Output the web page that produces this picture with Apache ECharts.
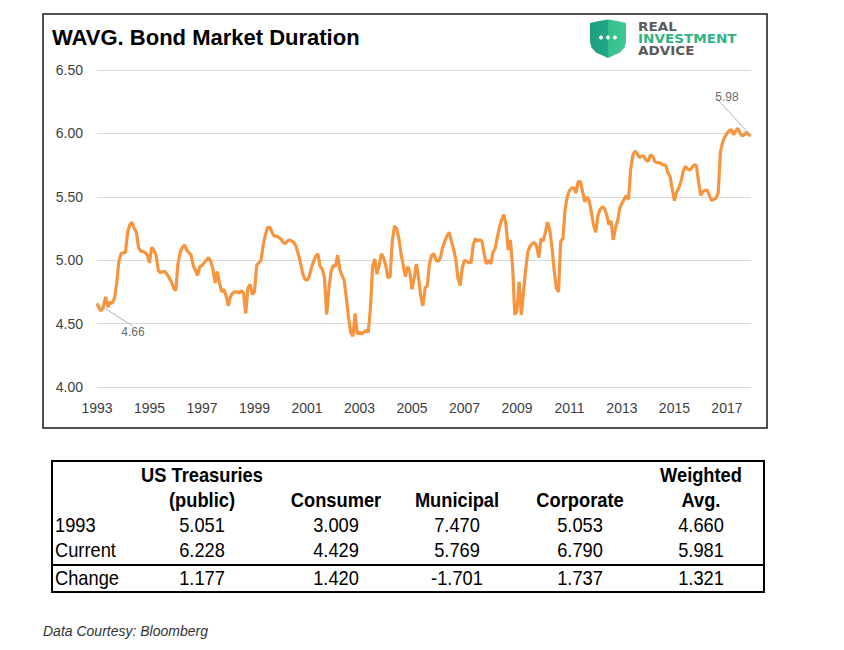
<!DOCTYPE html>
<html>
<head>
<meta charset="utf-8">
<script src="https://cdn.jsdelivr.net/npm/echarts@6/dist/echarts.min.js"></script>
<style>
  html, body { margin: 0; padding: 0; background: #fff; }
  #chart { width: 844px; height: 650px; }
</style>
</head>
<body>
<div id="chart"></div>
<script>
// ---------- DATA ----------
const startYear = 1993;
const xTickLabels = ["1993","1995","1997","1999","2001","2003","2005","2007","2009","2011","2013","2015","2017"];
const yTickValues = [4.0, 4.5, 5.0, 5.5, 6.0, 6.5];

// Monthly weighted-average bond market duration, Jan 1993 - Dec 2017
const durationValues = [
  4.66, 4.62, 4.60, 4.64, 4.71, 4.63, 4.67, 4.66, 4.70, 4.82,
  4.99, 5.05, 5.06, 5.06, 5.22, 5.28, 5.30, 5.25, 5.22, 5.10,
  5.07, 5.07, 5.06, 5.04, 4.98, 5.10, 5.08, 5.04, 4.92, 4.90,
  4.91, 4.91, 4.89, 4.86, 4.83, 4.78, 4.76, 4.97, 5.06, 5.10,
  5.12, 5.08, 5.06, 5.04, 4.96, 4.92, 4.88, 4.95, 4.96, 4.98,
  5.00, 5.02, 4.99, 4.93, 4.82, 4.91, 4.82, 4.75, 4.77, 4.72,
  4.64, 4.71, 4.74, 4.75, 4.75, 4.74, 4.76, 4.74, 4.58, 4.78,
  4.81, 4.73, 4.75, 4.96, 4.98, 5.00, 5.12, 5.20, 5.26, 5.26,
  5.22, 5.19, 5.19, 5.18, 5.17, 5.14, 5.13, 5.15, 5.16, 5.15,
  5.14, 5.11, 5.05, 4.98, 4.90, 4.85, 4.84, 4.87, 4.94, 4.99,
  5.03, 5.05, 4.95, 4.93, 4.86, 4.57, 4.77, 4.91, 4.96, 4.95,
  5.04, 4.93, 4.88, 4.84, 4.70, 4.55, 4.43, 4.40, 4.58, 4.42,
  4.43, 4.42, 4.43, 4.45, 4.43, 4.62, 4.95, 5.01, 4.89, 4.96,
  5.05, 5.02, 4.96, 4.86, 4.87, 5.15, 5.27, 5.25, 5.17, 5.05,
  4.96, 4.87, 4.95, 4.91, 4.77, 4.86, 4.97, 4.86, 4.72, 4.64,
  4.78, 4.80, 4.97, 5.04, 5.05, 5.00, 4.99, 5.02, 5.10, 5.15,
  5.19, 5.22, 5.15, 5.09, 5.01, 4.86, 4.80, 4.94, 5.00, 4.99,
  4.98, 4.98, 5.12, 5.17, 5.15, 5.16, 5.15, 5.05, 4.97, 5.00,
  4.97, 5.06, 5.09, 5.18, 5.26, 5.32, 5.36, 5.28, 5.08, 5.16,
  4.95, 4.57, 4.60, 4.83, 4.57, 4.75, 4.93, 5.07, 5.11, 5.13,
  5.14, 5.11, 5.02, 5.17, 5.15, 5.22, 5.30, 5.24, 5.10, 4.92,
  4.78, 4.75, 5.15, 5.17, 5.40, 5.50, 5.55, 5.57, 5.57, 5.53,
  5.62, 5.62, 5.54, 5.46, 5.50, 5.47, 5.38, 5.28, 5.22, 5.35,
  5.40, 5.42, 5.41, 5.36, 5.28, 5.31, 5.16, 5.25, 5.31, 5.41,
  5.45, 5.48, 5.51, 5.48, 5.72, 5.83, 5.86, 5.84, 5.81, 5.82,
  5.82, 5.79, 5.78, 5.83, 5.82, 5.78, 5.77, 5.77, 5.76, 5.75,
  5.75, 5.69, 5.66, 5.56, 5.47, 5.54, 5.57, 5.62, 5.70, 5.74,
  5.72, 5.71, 5.73, 5.75, 5.75, 5.62, 5.51, 5.54, 5.55, 5.55,
  5.51, 5.47, 5.48, 5.49, 5.53, 5.85, 5.93, 5.97, 6.00, 6.02,
  6.03, 5.99, 6.02, 6.04, 6.00, 5.98, 5.99, 6.01, 5.99, 5.98
];

// Table data
const tableHeaderTop = ["US Treasuries", "", "", "", "Weighted"];
const tableHeaderBottom = ["(public)", "Consumer", "Municipal", "Corporate", "Avg."];
const tableRowLabels = ["1993", "Current", "Change"];
const row1993 = [5.051, 3.009, 7.470, 5.053, 4.660];
const rowCurrent = [6.228, 4.429, 5.769, 6.790, 5.981];
const rowChange = [1.177, 1.420, -1.701, 1.737, 1.321];

const titleText = "WAVG. Bond Market Duration";
const sourceText = "Data Courtesy: Bloomberg";
const logoText = ["REAL", "INVESTMENT", "ADVICE"];

// ---------- BUILD ----------
const categories = durationValues.map((v, i) => {
  const y = startYear + Math.floor(i / 12);
  const m = (i % 12) + 1;
  return y + "-" + (m < 10 ? "0" + m : m);
});
const lastIdx = durationValues.length - 1;

const axisFont = "Liberation Sans, Arial, sans-serif";
const tableFont = "'Liberation Sans', Arial, sans-serif";

const graphics = [];
// chart frame
graphics.push({ type: 'rect', shape: { x: 43, y: 14, width: 724, height: 414 },
  style: { fill: 'none', stroke: '#1a1a1a', lineWidth: 1.5 }, z: 0 });

// logo shield
graphics.push({ type: 'polygon', shape: { points: [
    [590, 23], [599, 21], [608, 19.5], [617, 21], [626, 23], [626, 42],
    [624.5, 47.5], [620, 52.5], [608, 58], [596, 52.5], [591.5, 47.5], [590, 42]] },
  style: { fill: { type: 'linear', x: 0, y: 0, x2: 1, y2: 0, colorStops: [
    { offset: 0, color: '#1d9e80' }, { offset: 0.5, color: '#22a886' },
    { offset: 0.5, color: '#36bf90' }, { offset: 1, color: '#40c794' }] } } });
[601, 608, 615].forEach(cx => graphics.push({ type: 'circle', shape: { cx: cx, cy: 37.5, r: 1.9 }, style: { fill: '#fff' } }));
const logoColors = ['#5a5a5a', '#2fb47f', '#5a5a5a'];
logoText.forEach((t, i) => graphics.push({ type: 'text', x: 638, y: 26.5 + i * 12.3, scaleX: 1.18,
  style: { x: 0, y: 0, text: t, fill: logoColors[i], textAlign: 'left', textVerticalAlign: 'middle',
    font: 'bold 11.5px "DejaVu Sans", sans-serif' } }));

// table
const colX = [202, 336, 457, 580, 701];
const rowY = [525, 550, 578];
const tableRows = [row1993, rowCurrent, rowChange];
function cell(x, y, text, bold, align) {
  return { type: 'text', x: x, y: y, scaleX: 0.87, scaleY: 1,
    style: { x: 0, y: 0, text: text, fill: '#000', font: (bold ? 'bold ' : '') + '21px ' + tableFont,
      textAlign: align || 'center', textVerticalAlign: 'middle' } };
}
graphics.push({ type: 'rect', shape: { x: 52, y: 461, width: 712, height: 131 },
  style: { fill: 'none', stroke: '#000', lineWidth: 2 } });
graphics.push({ type: 'line', shape: { x1: 52, y1: 565, x2: 764, y2: 565 },
  style: { stroke: '#000', lineWidth: 2 } });
tableHeaderTop.forEach((t, i) => { if (t) graphics.push(cell(colX[i], 475, t, true)); });
tableHeaderBottom.forEach((t, i) => graphics.push(cell(colX[i], 500, t, true)));
tableRowLabels.forEach((lab, r) => {
  graphics.push(cell(55, rowY[r], lab, false, 'left'));
  tableRows[r].forEach((v, i) => graphics.push(cell(colX[i], rowY[r], v.toFixed(3), false)));
});

// source
graphics.push({ type: 'text', style: { x: 43, y: 631, text: sourceText, fill: '#333',
  font: 'italic 14px Liberation Sans, Arial, sans-serif', textAlign: 'left', textVerticalAlign: 'middle' } });

const chart = echarts.init(document.getElementById('chart'), null, { renderer: 'svg' });
chart.setOption({
  animation: false,
  backgroundColor: '#fff',
  title: {
    text: titleText, left: 47, top: 21,
    textStyle: { fontFamily: axisFont, fontSize: 22, fontWeight: 'bold', color: '#000' }
  },
  grid: { left: 97, right: 93, top: 70, bottom: 263, containLabel: false },
  xAxis: {
    type: 'category', data: categories, boundaryGap: false,
    axisLine: { show: false }, axisTick: { show: false }, splitLine: { show: false },
    axisLabel: {
      interval: 0, margin: 14, color: '#404040', fontSize: 14, fontFamily: axisFont,
      formatter: (v) => (v.slice(5) === '01' && xTickLabels.indexOf(v.slice(0, 4)) >= 0) ? v.slice(0, 4) : ''
    }
  },
  yAxis: {
    type: 'value', min: yTickValues[0], max: yTickValues[yTickValues.length - 1], interval: 0.5,
    axisLine: { show: false }, axisTick: { show: false },
    axisLabel: { margin: 14, color: '#404040', fontSize: 14, fontFamily: axisFont, formatter: (v) => v.toFixed(2) },
    splitLine: { lineStyle: { color: '#d9d9d9', width: 1 } }
  },
  series: [
    {
      type: 'line', data: durationValues, showSymbol: false, symbol: 'none',
      lineStyle: { color: '#f7953f', width: 3.2 }, z: 3
    },
    {
      type: 'scatter', symbolSize: 0, z: 4,
      data: [[0, durationValues[0]], [lastIdx, durationValues[lastIdx]]],
      label: {
        show: true, position: 'top', distance: 0, fontSize: 12, color: '#404040', fontFamily: axisFont,
        formatter: (p) => p.value[1].toFixed(2)
      },
      labelLine: { show: true, lineStyle: { color: '#b4b4b4', width: 1 } },
      labelLayout: (p) => p.dataIndex === 0 ? { dx: 36, dy: 35 } : { dx: -24, dy: -33 }
    }
  ],
  graphic: graphics
});
</script>
</body>
</html>
